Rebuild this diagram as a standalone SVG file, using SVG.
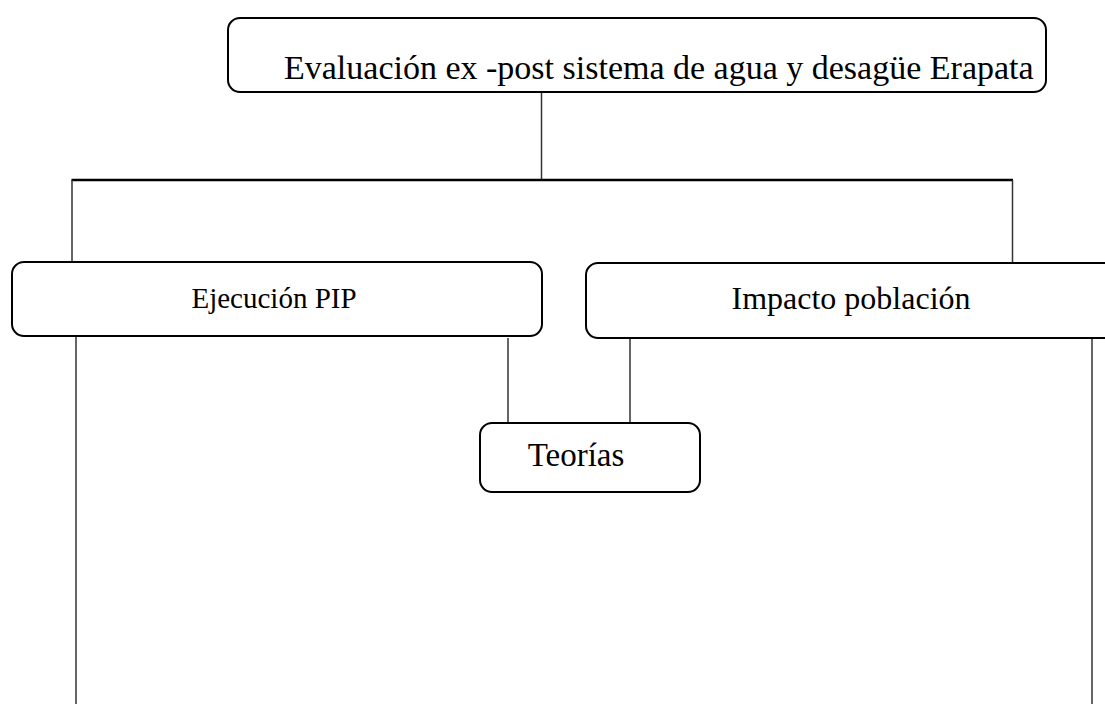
<svg xmlns="http://www.w3.org/2000/svg" width="1105" height="704" viewBox="0 0 1105 704">
<style>
.box{fill:#ffffff;stroke:#000000;stroke-width:2}
.lbl{font-family:"Liberation Serif","Times New Roman",serif;fill:#000000}
.ln{stroke:#333333;stroke-width:1.5;fill:none}
.hl{stroke:#000000;stroke-width:2.5;fill:none}
</style>
<rect width="1105" height="704" fill="#ffffff"/>
<g id="connectors">
<line class="ln" x1="541.5" y1="92" x2="541.5" y2="180"/>
<line class="hl" x1="71.5" y1="180" x2="1013" y2="180"/>
<line class="ln" x1="72" y1="180" x2="72" y2="263"/>
<line class="ln" x1="1012.5" y1="180" x2="1012.5" y2="265"/>
<line class="ln" x1="508" y1="338" x2="508" y2="424"/>
<line class="ln" x1="630" y1="337" x2="630" y2="424"/>
<line class="ln" x1="76" y1="337" x2="76" y2="704"/>
<line class="ln" x1="1092" y1="334" x2="1092" y2="704"/>
</g>
<g id="node-evaluacion">
<rect class="box" x="228" y="18" width="818" height="74" rx="12"/>
<text class="lbl" x="284" y="79" font-size="34">Evaluación ex -post sistema de agua y desagüe Erapata</text>
</g>
<g id="node-ejecucion">
<rect class="box" x="12" y="262" width="530" height="74" rx="12"/>
<text class="lbl" x="274" y="308" font-size="29" text-anchor="middle">Ejecución PIP</text>
</g>
<g id="node-impacto">
<rect class="box" x="586" y="263" width="540" height="75" rx="12"/>
<text class="lbl" x="851" y="309" font-size="32" text-anchor="middle">Impacto población</text>
</g>
<g id="node-teorias">
<rect class="box" x="480" y="423" width="220" height="69" rx="12"/>
<text class="lbl" x="576" y="466" font-size="33" text-anchor="middle">Teorías</text>
</g>
</svg>
